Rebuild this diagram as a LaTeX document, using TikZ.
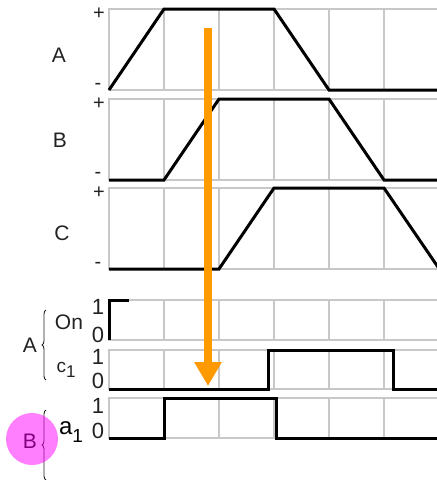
\documentclass[tikz,border=0pt]{standalone}
\usepackage{fontspec}
\setmainfont{Liberation Sans}
\usetikzlibrary{arrows.meta,decorations.pathreplacing,positioning}
\definecolor{Grid}{HTML}{C8C8C8}
\definecolor{Ink}{HTML}{222222}
\definecolor{Flow}{HTML}{FF9900}
\definecolor{Pink}{HTML}{FF00FF}

\begin{document}
\begin{tikzpicture}[x=1pt,y=-1pt,
  grid/.style={draw=Grid,line width=1.1pt},
  signal/.style={draw=black,line width=3pt,line join=miter},
  tag/.style={inner sep=0pt,text=Ink,font=\fontsize{21}{21}\selectfont},
  sign/.style={inner sep=0pt,text=Ink,font=\fontsize{20}{20}\selectfont},
  bit/.style={inner sep=0pt,text=Ink,font=\fontsize{22}{22}\selectfont},
  curly/.style={decorate,decoration={brace,amplitude=4pt},draw=Ink,line width=0.9pt},
  flow/.style={draw=Flow,line width=8pt,-{Triangle[length=24pt,width=26pt]}}
]
\useasboundingbox (0,0) rectangle (437,480);

% grids
\foreach \top/\bot in {9/90,99/180,188/269,300/340,350/389,398/438} {
  \draw[grid] (109,\top) rectangle (445,\bot);
  \foreach \x in {164,219,...,384} \draw[grid] (\x,\top) -- (\x,\bot);
}

% analog signals
\draw[signal] (109,90) -- (164,9) -- (274,9) -- (329,90) -- (445,90);
\draw[signal] (109,180) -- (164,180) -- (219,99) -- (329,99) -- (384,180) -- (445,180);
\draw[signal] (109,269) -- (219,269) -- (274,188) -- (384,188) -- (440,270);

% digital signals
\draw[signal] (109,340) -- (109,300) -- (129,300);
\draw[signal] (109,389) -- (268,389) -- (268,350) -- (393,350) -- (393,389) -- (445,389);
\draw[signal] (109,438) -- (164,438) -- (164,398) -- (276,398) -- (276,438) -- (445,438);

% analog labels
\node[tag] (la) at (59,55) {A};
\node[tag] (lb) at (60,140) {B};
\node[tag] (lc) at (62,233) {C};
\foreach \p/\m [count=\i] in {14/86,104/175,193/265} {
  \node[sign] (plus\i) at (99,\p) {+};
  \node[sign] (minus\i) at (98,\m) {-};
}

% digital labels
\node[bit] (on1) at (98,307) {1};
\node[bit] (on0) at (98,335) {0};
\node[bit] (ca1) at (98,357) {1};
\node[bit] (ca0) at (98,381) {0};
\node[bit] (ab1) at (98,406) {1};
\node[bit] (ab0) at (98,431) {0};
\node[tag] (on) at (69,322) {On};
\node[inner sep=0pt,text=Ink,font=\fontsize{19}{19}\selectfont] (c1) at (66,370)
  {c\raisebox{-0.3em}{\fontsize{17}{17}\selectfont 1}};
\node[inner sep=0pt,text=black,font=\fontsize{24}{24}\selectfont] (a1) at (71,432)
  {a\raisebox{-0.3em}{\fontsize{19}{19}\selectfont 1}};
\node[tag] (ga) at (30,345) {A};
\node[tag,text=black] (gb) at (30,441) {B};
\coordinate (bra0) at (46,380);
\coordinate (bra1) at (46,310);
\coordinate (brb0) at (46,480);
\coordinate (brb1) at (46,410);
\draw[curly] (bra0) -- (bra1);
\draw[curly] (brb0) -- (brb1);
\fill[Pink,opacity=0.5] (32,439) circle (26);

% arrow
\coordinate (from) at (208,28);
\coordinate (to) at (208,386);
\draw[flow] (from) -- (to);
\end{tikzpicture}
\end{document}
